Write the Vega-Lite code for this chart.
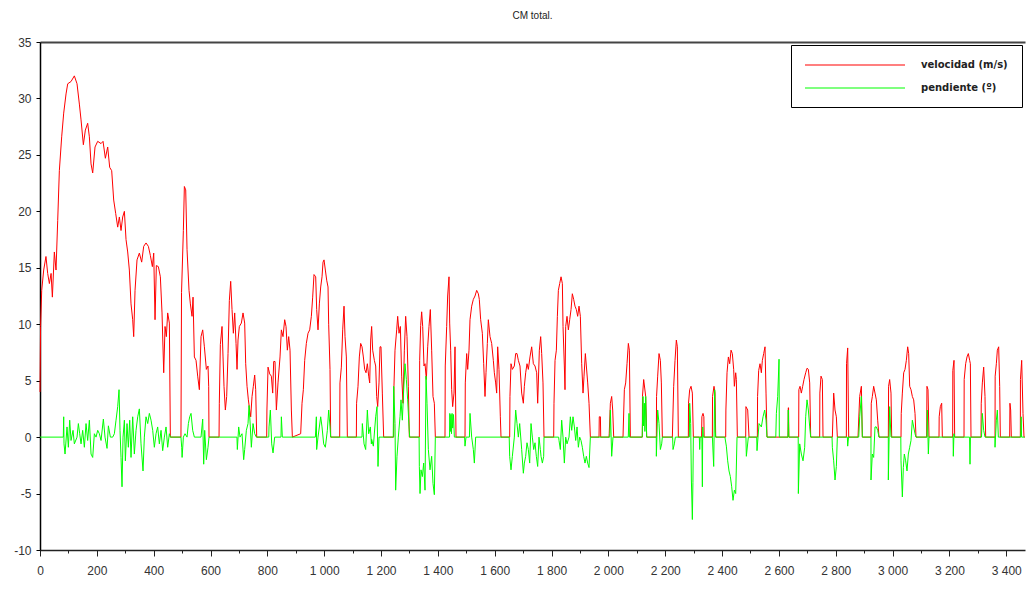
{
"$schema": "https://vega.github.io/schema/vega-lite/v6.json",
"width": 985, "height": 508,
"autosize": {"type": "none"},
"padding": {"left": 40, "top": 42, "right": 2, "bottom": 40},
"background": "white",
"title": {"text": "CM total.", "fontSize": 10, "font": "Liberation Sans", "fontWeight": "normal", "color": "#222", "offset": 15, "anchor": "middle", "frame": "group"},
"config": {"view": {"stroke": null}, "axis": {"grid": false}},
"datasets": {
"vel": [
{"t":0,"v":4.0},{"t":2,"v":9.8},{"t":6,"v":13.0},{"t":13,"v":14.8},{"t":21,"v":16.0},{"t":27,"v":14.5},{"t":33,"v":13.6},{"t":39,"v":14.5},{"t":43.5,"v":12.4},{"t":50.5,"v":16.4},{"t":56.4,"v":14.8},{"t":62.3,"v":19.2},{"t":68.1,"v":23.6},{"t":76.3,"v":26.6},{"t":83.4,"v":28.7},{"t":91.6,"v":30.4},{"t":97.5,"v":31.3},{"t":109.2,"v":31.5},{"t":120.9,"v":32.0},{"t":130.3,"v":31.3},{"t":138.5,"v":29.5},{"t":144.4,"v":28.1},{"t":152.6,"v":25.9},{"t":159.6,"v":27.2},{"t":167.8,"v":27.8},{"t":173.7,"v":26.6},{"t":179.6,"v":24.2},{"t":185.4,"v":23.4},{"t":193.6,"v":25.7},{"t":203,"v":26.2},{"t":214.8,"v":26.0},{"t":221.8,"v":26.2},{"t":230,"v":24.7},{"t":238.2,"v":25.7},{"t":245.2,"v":23.9},{"t":252.3,"v":23.6},{"t":259.3,"v":21.0},{"t":266.4,"v":19.8},{"t":273.4,"v":18.6},{"t":279.3,"v":19.5},{"t":285.1,"v":18.3},{"t":291,"v":19.5},{"t":296.9,"v":20.0},{"t":302.7,"v":17.5},{"t":308.6,"v":16.4},{"t":314.4,"v":14.8},{"t":320.3,"v":11.8},{"t":326.2,"v":10.4},{"t":329.7,"v":8.9},{"t":334.4,"v":13.0},{"t":341.4,"v":15.7},{"t":349.6,"v":16.3},{"t":357.8,"v":15.5},{"t":364.9,"v":16.9},{"t":373.1,"v":17.2},{"t":381.3,"v":16.9},{"t":388.3,"v":16.1},{"t":395.4,"v":15.1},{"t":400.1,"v":16.3},{"t":404.8,"v":10.4},{"t":409.4,"v":15.2},{"t":416.5,"v":15.1},{"t":423.5,"v":14.2},{"t":429.4,"v":11.0},{"t":435.3,"v":5.7},{"t":440,"v":9.8},{"t":444.6,"v":8.9},{"t":449.3,"v":11.0},{"t":455.2,"v":10.1},{"t":458.7,"v":0},{"t":496,"v":0},{"t":498,"v":12.8},{"t":504.5,"v":18.3},{"t":508,"v":22.2},{"t":512.7,"v":21.9},{"t":517.4,"v":16.6},{"t":524.4,"v":13.0},{"t":529.1,"v":11.8},{"t":535,"v":10.7},{"t":538.5,"v":12.4},{"t":543.2,"v":7.1},{"t":549,"v":6.8},{"t":554.9,"v":5.4},{"t":560.8,"v":4.2},{"t":566.6,"v":8.9},{"t":572.5,"v":9.5},{"t":578.4,"v":8.0},{"t":585.4,"v":6.0},{"t":591.2,"v":6.3},{"t":593.6,"v":4.5},{"t":594.7,"v":0},{"t":630,"v":0},{"t":631,"v":3.0},{"t":634.6,"v":8.2},{"t":640.5,"v":9.8},{"t":644,"v":7.1},{"t":647.5,"v":4.5},{"t":652.2,"v":2.4},{"t":656.9,"v":3.6},{"t":661.6,"v":7.4},{"t":666.3,"v":12.1},{"t":671,"v":13.8},{"t":675.7,"v":11.3},{"t":680.4,"v":9.2},{"t":685.1,"v":11.0},{"t":689.8,"v":8.3},{"t":693.3,"v":6.0},{"t":696.8,"v":8.6},{"t":701.5,"v":9.8},{"t":708.5,"v":10.1},{"t":714.4,"v":11.0},{"t":720.2,"v":10.1},{"t":723.8,"v":6.5},{"t":728.5,"v":4.5},{"t":733.2,"v":3.3},{"t":737.8,"v":2.4},{"t":741.4,"v":1.8},{"t":746.1,"v":3.6},{"t":750.7,"v":4.5},{"t":755.4,"v":5.5},{"t":759,"v":4.2},{"t":762.5,"v":0},{"t":797.7,"v":0},{"t":798.5,"v":2.4},{"t":802.4,"v":6.2},{"t":808.2,"v":5.6},{"t":814.1,"v":5.4},{"t":818.8,"v":3.9},{"t":822.3,"v":6.7},{"t":827,"v":6.7},{"t":831.7,"v":2.4},{"t":837.5,"v":4.8},{"t":844.6,"v":7.1},{"t":849.3,"v":9.5},{"t":855.1,"v":8.9},{"t":861,"v":10.4},{"t":865.7,"v":9.8},{"t":870.4,"v":7.7},{"t":875.1,"v":8.9},{"t":879.8,"v":7.7},{"t":884.5,"v":2.4},{"t":888,"v":0},{"t":917.3,"v":0.3},{"t":922,"v":3.0},{"t":926.7,"v":4.2},{"t":931.4,"v":6.8},{"t":937.2,"v":8.3},{"t":943.1,"v":9.2},{"t":949,"v":9.5},{"t":954.8,"v":10.7},{"t":959.5,"v":12.4},{"t":964.2,"v":14.4},{"t":970.1,"v":14.2},{"t":973.6,"v":11.3},{"t":978.3,"v":9.5},{"t":983,"v":11.8},{"t":987.7,"v":13.3},{"t":992.4,"v":14.2},{"t":995.9,"v":15.5},{"t":999.4,"v":15.7},{"t":1004.1,"v":14.8},{"t":1008.8,"v":13.9},{"t":1013.5,"v":13.3},{"t":1015.8,"v":10.0},{"t":1020.5,"v":6.0},{"t":1022.9,"v":0},{"t":1054.5,"v":0},{"t":1055.5,"v":4.8},{"t":1060.4,"v":6.2},{"t":1065.1,"v":9.5},{"t":1069.8,"v":11.6},{"t":1073.3,"v":8.9},{"t":1078,"v":7.1},{"t":1081.5,"v":0},{"t":1113.2,"v":0},{"t":1114,"v":3.0},{"t":1119,"v":4.5},{"t":1123.7,"v":7.1},{"t":1128.4,"v":8.3},{"t":1133.1,"v":8.0},{"t":1137.8,"v":7.1},{"t":1142.5,"v":6.0},{"t":1147.2,"v":5.7},{"t":1151.9,"v":6.5},{"t":1156.6,"v":5.4},{"t":1160.1,"v":4.8},{"t":1163.6,"v":8.6},{"t":1167,"v":9.8},{"t":1170.6,"v":7.7},{"t":1176.5,"v":6.8},{"t":1181.2,"v":6.3},{"t":1184.7,"v":3.6},{"t":1188.2,"v":2.7},{"t":1192.9,"v":4.8},{"t":1196.4,"v":8.0},{"t":1199.9,"v":8.0},{"t":1204.6,"v":3.9},{"t":1209.3,"v":0},{"t":1244.5,"v":0},{"t":1245.5,"v":4.5},{"t":1249.2,"v":7.7},{"t":1255.1,"v":9.5},{"t":1258.6,"v":10.7},{"t":1263.3,"v":9.2},{"t":1268,"v":9.8},{"t":1272.7,"v":5.4},{"t":1277.4,"v":3.0},{"t":1282.1,"v":7.7},{"t":1286.7,"v":10.7},{"t":1291.4,"v":8.9},{"t":1296.1,"v":4.5},{"t":1299.6,"v":0},{"t":1334.8,"v":0},{"t":1336,"v":6.8},{"t":1339.5,"v":9.9},{"t":1343,"v":11.1},{"t":1346.6,"v":9.8},{"t":1351.2,"v":6.3},{"t":1354.8,"v":6.5},{"t":1359.5,"v":5.1},{"t":1364.2,"v":8.0},{"t":1368.8,"v":9.8},{"t":1373.5,"v":11.3},{"t":1378.2,"v":7.7},{"t":1382.9,"v":3.6},{"t":1387.6,"v":3.0},{"t":1391.1,"v":0},{"t":1425.1,"v":0},{"t":1426,"v":6.3},{"t":1431,"v":9.8},{"t":1434.5,"v":12.5},{"t":1439.2,"v":14.2},{"t":1441.6,"v":10.1},{"t":1445.1,"v":7.7},{"t":1448.6,"v":4.2},{"t":1452.1,"v":2.7},{"t":1456.8,"v":3.9},{"t":1460.3,"v":8.0},{"t":1463.9,"v":0},{"t":1495.5,"v":0},{"t":1496.5,"v":4.8},{"t":1501.4,"v":7.4},{"t":1504.9,"v":6.0},{"t":1509.6,"v":7.7},{"t":1513.1,"v":10.4},{"t":1519,"v":11.6},{"t":1524.8,"v":12.2},{"t":1530.7,"v":12.5},{"t":1536.6,"v":13.0},{"t":1542.4,"v":12.7},{"t":1545.9,"v":12.2},{"t":1550.6,"v":10.4},{"t":1556.5,"v":9.2},{"t":1561.2,"v":6.5},{"t":1565.9,"v":3.6},{"t":1569.4,"v":5.7},{"t":1574.1,"v":8.3},{"t":1577.6,"v":10.4},{"t":1583.5,"v":8.9},{"t":1589.3,"v":8.3},{"t":1595.2,"v":6.8},{"t":1598.7,"v":5.7},{"t":1603.4,"v":4.8},{"t":1606.9,"v":3.9},{"t":1610.5,"v":8.0},{"t":1615.1,"v":6.0},{"t":1619.8,"v":1.8},{"t":1622.2,"v":0},{"t":1652.7,"v":0},{"t":1653.7,"v":3.6},{"t":1657.4,"v":6.5},{"t":1662.1,"v":6.0},{"t":1669.1,"v":6.3},{"t":1673.8,"v":7.4},{"t":1678.5,"v":7.4},{"t":1683.2,"v":6.8},{"t":1689,"v":6.3},{"t":1694.9,"v":3.9},{"t":1700.8,"v":3.0},{"t":1704.3,"v":4.5},{"t":1709,"v":5.7},{"t":1713.7,"v":6.5},{"t":1718.4,"v":6.0},{"t":1724.2,"v":7.1},{"t":1730.1,"v":8.0},{"t":1736,"v":6.5},{"t":1741.8,"v":6.3},{"t":1747.7,"v":5.7},{"t":1751.2,"v":3.0},{"t":1757.1,"v":7.7},{"t":1761.8,"v":8.9},{"t":1765.3,"v":7.4},{"t":1770,"v":4.8},{"t":1773.5,"v":0},{"t":1807.6,"v":0},{"t":1808.6,"v":3.0},{"t":1812.3,"v":6.8},{"t":1817,"v":7.7},{"t":1820.5,"v":10.7},{"t":1824,"v":13.0},{"t":1828.7,"v":13.6},{"t":1833.4,"v":14.2},{"t":1838.1,"v":13.6},{"t":1840.4,"v":9.8},{"t":1845.1,"v":6.3},{"t":1847.4,"v":4.2},{"t":1849.8,"v":9.8},{"t":1854.5,"v":10.7},{"t":1859.2,"v":9.5},{"t":1863.9,"v":10.4},{"t":1868.6,"v":11.3},{"t":1873.2,"v":12.7},{"t":1877.9,"v":12.2},{"t":1882.6,"v":11.6},{"t":1887.3,"v":11.3},{"t":1892,"v":10.7},{"t":1896.7,"v":11.6},{"t":1901.4,"v":10.7},{"t":1906.1,"v":6.5},{"t":1910.8,"v":3.9},{"t":1914.3,"v":5.4},{"t":1919,"v":7.4},{"t":1922.5,"v":6.3},{"t":1927.2,"v":4.8},{"t":1931.9,"v":3.0},{"t":1936.6,"v":0},{"t":1967.1,"v":0},{"t":1968,"v":1.8},{"t":1972,"v":1.8},{"t":1973,"v":0},{"t":2002.3,"v":0},{"t":2003,"v":0.3},{"t":2007,"v":3.0},{"t":2011.6,"v":3.6},{"t":2015.2,"v":2.4},{"t":2018.7,"v":0},{"t":2051.5,"v":0},{"t":2056.2,"v":4.2},{"t":2060.9,"v":4.8},{"t":2065.6,"v":6.5},{"t":2070.3,"v":8.3},{"t":2073.8,"v":7.7},{"t":2077.3,"v":0},{"t":2119.5,"v":0},{"t":2120,"v":3.6},{"t":2124.2,"v":5.1},{"t":2131.3,"v":3.6},{"t":2134.8,"v":0},{"t":2168.8,"v":0},{"t":2169.5,"v":3.6},{"t":2173.5,"v":5.4},{"t":2178.2,"v":7.4},{"t":2182.9,"v":6.8},{"t":2186.4,"v":4.8},{"t":2189.9,"v":0},{"t":2225.1,"v":0},{"t":2229.8,"v":4.5},{"t":2234.5,"v":6.8},{"t":2239.2,"v":8.6},{"t":2242.7,"v":8.0},{"t":2246.2,"v":0},{"t":2281.4,"v":0},{"t":2282,"v":3.0},{"t":2286.1,"v":4.2},{"t":2290.8,"v":4.5},{"t":2295.5,"v":3.9},{"t":2299,"v":0},{"t":2328,"v":0},{"t":2329,"v":1.8},{"t":2333,"v":2.1},{"t":2336,"v":1.8},{"t":2337,"v":0},{"t":2365.9,"v":0},{"t":2366.5,"v":3.6},{"t":2371.7,"v":4.5},{"t":2375.3,"v":3.9},{"t":2377.6,"v":0},{"t":2412.8,"v":0},{"t":2413.5,"v":2.4},{"t":2417.5,"v":5.7},{"t":2422.2,"v":7.1},{"t":2426.9,"v":6.5},{"t":2431.6,"v":7.7},{"t":2436.2,"v":7.4},{"t":2440.9,"v":6.0},{"t":2443.3,"v":4.5},{"t":2448,"v":5.7},{"t":2450.3,"v":5.1},{"t":2453.8,"v":0},{"t":2483.2,"v":0},{"t":2484,"v":2.7},{"t":2490.2,"v":2.4},{"t":2494.9,"v":0},{"t":2524.2,"v":0},{"t":2525,"v":3.6},{"t":2528.9,"v":5.9},{"t":2533.6,"v":6.5},{"t":2538.3,"v":5.7},{"t":2541.8,"v":6.8},{"t":2546.5,"v":7.4},{"t":2551.2,"v":8.0},{"t":2554.7,"v":3.9},{"t":2558.2,"v":0},{"t":2632,"v":0},{"t":2633,"v":2.6},{"t":2634,"v":2.6},{"t":2635,"v":0},{"t":2669.6,"v":0},{"t":2670.3,"v":4.2},{"t":2674.4,"v":4.5},{"t":2679,"v":3.9},{"t":2683.7,"v":4.5},{"t":2688.4,"v":5.1},{"t":2694.3,"v":5.7},{"t":2699,"v":6.1},{"t":2703.7,"v":6.0},{"t":2708.4,"v":4.8},{"t":2711.9,"v":0},{"t":2743.5,"v":0},{"t":2744.2,"v":3.9},{"t":2748.2,"v":5.4},{"t":2752.9,"v":5.1},{"t":2755.3,"v":0},{"t":2788.1,"v":0},{"t":2792.8,"v":3.9},{"t":2797.5,"v":2.4},{"t":2802.2,"v":1.8},{"t":2805.7,"v":0},{"t":2837.4,"v":0},{"t":2838,"v":6.5},{"t":2842.1,"v":7.9},{"t":2845.6,"v":0},{"t":2878.4,"v":0},{"t":2884.3,"v":3.6},{"t":2890.2,"v":4.5},{"t":2893.7,"v":0},{"t":2924.1,"v":0},{"t":2925,"v":3.0},{"t":2928.8,"v":3.6},{"t":2933.5,"v":4.5},{"t":2938.2,"v":3.9},{"t":2942.9,"v":3.3},{"t":2947.6,"v":1.5},{"t":2952.3,"v":0},{"t":2985.1,"v":0},{"t":2986,"v":4.5},{"t":2989.8,"v":5.1},{"t":2994.5,"v":3.9},{"t":2996.9,"v":0},{"t":3029.7,"v":0},{"t":3030.5,"v":2.1},{"t":3034.4,"v":3.9},{"t":3039.1,"v":5.7},{"t":3043.8,"v":6.0},{"t":3048.5,"v":6.8},{"t":3053.2,"v":8.0},{"t":3056.7,"v":7.4},{"t":3060.2,"v":4.5},{"t":3064.9,"v":4.2},{"t":3069.6,"v":3.6},{"t":3074.3,"v":3.3},{"t":3079,"v":2.1},{"t":3082.5,"v":0},{"t":3120,"v":0},{"t":3121,"v":4.5},{"t":3124.7,"v":4.2},{"t":3128.2,"v":0},{"t":3163.4,"v":0},{"t":3164,"v":1.8},{"t":3168.1,"v":2.7},{"t":3172.8,"v":3.0},{"t":3175.1,"v":0},{"t":3211.5,"v":0},{"t":3212,"v":5.9},{"t":3216.2,"v":6.8},{"t":3218.5,"v":0},{"t":3251.4,"v":0},{"t":3252,"v":5.1},{"t":3257.2,"v":6.5},{"t":3261.9,"v":7.1},{"t":3266.6,"v":7.4},{"t":3271.3,"v":6.8},{"t":3273.7,"v":6.5},{"t":3276,"v":0},{"t":3311.2,"v":0},{"t":3312,"v":3.0},{"t":3315.9,"v":4.8},{"t":3320.6,"v":6.2},{"t":3325.3,"v":3.6},{"t":3327.6,"v":0},{"t":3360.5,"v":0},{"t":3361,"v":5.4},{"t":3365.2,"v":6.5},{"t":3368.7,"v":7.7},{"t":3373.4,"v":8.0},{"t":3376.9,"v":4.5},{"t":3379.2,"v":0},{"t":3412.1,"v":0},{"t":3413,"v":3.0},{"t":3415.6,"v":2.4},{"t":3417.9,"v":0},{"t":3449.6,"v":0},{"t":3450,"v":5.1},{"t":3454.3,"v":6.8},{"t":3459,"v":2.1},{"t":3462.5,"v":0},{"t":3465,"v":0}
],
"pen": [
{"t":0,"v":0},{"t":82,"v":0},{"t":83.4,"v":1.8},{"t":84.5,"v":-0.6},{"t":88.1,"v":-1.5},{"t":95.1,"v":0.9},{"t":99.8,"v":-0.9},{"t":104.5,"v":1.5},{"t":109.2,"v":-0.3},{"t":116.2,"v":0.6},{"t":120.9,"v":-0.6},{"t":130.3,"v":0},{"t":135,"v":1.2},{"t":139.7,"v":0.3},{"t":144.4,"v":-0.6},{"t":150.2,"v":0.6},{"t":156.1,"v":-0.9},{"t":162,"v":1.2},{"t":167.8,"v":-0.3},{"t":173.7,"v":1.5},{"t":179.6,"v":-1.5},{"t":185.4,"v":-1.8},{"t":191.3,"v":0.3},{"t":197.2,"v":0},{"t":203,"v":0.6},{"t":208.9,"v":0.3},{"t":214.8,"v":-0.3},{"t":223,"v":1.6},{"t":228.8,"v":0},{"t":235.9,"v":-1.0},{"t":240.6,"v":1.0},{"t":247.6,"v":0},{"t":255.8,"v":0},{"t":261.7,"v":0.3},{"t":267.5,"v":1.5},{"t":273.4,"v":2.7},{"t":278.1,"v":4.2},{"t":281.6,"v":0.6},{"t":285.1,"v":-1.8},{"t":288.6,"v":-4.4},{"t":292.2,"v":0},{"t":296.9,"v":1.5},{"t":300.4,"v":-2.1},{"t":306.2,"v":1.2},{"t":310.9,"v":-0.9},{"t":315.6,"v":1.5},{"t":320.3,"v":-1.8},{"t":326.2,"v":1.8},{"t":332,"v":-1.5},{"t":337.9,"v":0.6},{"t":343.8,"v":1.8},{"t":349.6,"v":2.5},{"t":355.5,"v":-0.6},{"t":362.5,"v":-3.0},{"t":367.2,"v":0},{"t":373.1,"v":1.8},{"t":379,"v":1.2},{"t":384.8,"v":2.1},{"t":390.7,"v":1.5},{"t":396.6,"v":0.6},{"t":402.4,"v":-0.9},{"t":408.3,"v":0.3},{"t":414.1,"v":0.9},{"t":420,"v":-0.6},{"t":425.9,"v":0.6},{"t":431.7,"v":-1.2},{"t":437.6,"v":0},{"t":443.5,"v":0.9},{"t":449.3,"v":-0.9},{"t":455.2,"v":0.3},{"t":458.7,"v":0},{"t":496,"v":0},{"t":498.6,"v":-0.9},{"t":500,"v":-1.8},{"t":504.5,"v":0},{"t":510.3,"v":0.3},{"t":517.4,"v":0},{"t":522.1,"v":1.2},{"t":526.8,"v":1.8},{"t":531.4,"v":2.1},{"t":537.3,"v":0.6},{"t":543.2,"v":0},{"t":566.6,"v":0},{"t":572.5,"v":1.6},{"t":576,"v":-2.4},{"t":579.5,"v":0.6},{"t":585.4,"v":-2.0},{"t":591.2,"v":-0.9},{"t":594.7,"v":0},{"t":693,"v":0},{"t":694.4,"v":-1.1},{"t":699.1,"v":0.9},{"t":703.8,"v":0},{"t":710.9,"v":0.3},{"t":716.7,"v":-2.0},{"t":720.2,"v":-1.1},{"t":726.1,"v":0.6},{"t":732,"v":1.2},{"t":735.5,"v":2.8},{"t":740.2,"v":0.9},{"t":743.7,"v":-0.9},{"t":749.6,"v":1.2},{"t":755.4,"v":0.3},{"t":761.3,"v":0},{"t":805,"v":0},{"t":805.9,"v":0.9},{"t":810.6,"v":2.4},{"t":815.3,"v":-0.6},{"t":820,"v":-1.4},{"t":825.8,"v":0},{"t":848,"v":0},{"t":849.3,"v":1.8},{"t":852.8,"v":0},{"t":969,"v":0},{"t":972.4,"v":1.8},{"t":973.5,"v":-1.1},{"t":978.3,"v":0},{"t":987.7,"v":1.8},{"t":992.4,"v":0.9},{"t":998.2,"v":-0.6},{"t":1004.1,"v":-0.9},{"t":1011.1,"v":0.6},{"t":1015.8,"v":2.4},{"t":1020.5,"v":0.9},{"t":1022.9,"v":0},{"t":1133,"v":0},{"t":1134.3,"v":1.2},{"t":1140.2,"v":-0.6},{"t":1146,"v":-1.1},{"t":1151.9,"v":2.4},{"t":1156.6,"v":0.3},{"t":1162.4,"v":0.9},{"t":1166,"v":-0.6},{"t":1167.1,"v":-0.2},{"t":1173,"v":-0.8},{"t":1181.2,"v":1.8},{"t":1185.9,"v":2.7},{"t":1189.4,"v":-2.6},{"t":1192.9,"v":0},{"t":1243,"v":0},{"t":1244.5,"v":4.5},{"t":1249.2,"v":1.2},{"t":1251.5,"v":-4.7},{"t":1256.2,"v":-1.7},{"t":1260.9,"v":0},{"t":1266.8,"v":1.8},{"t":1270.3,"v":3.3},{"t":1275,"v":1.5},{"t":1279.7,"v":4.2},{"t":1284.4,"v":6.5},{"t":1289.1,"v":5.1},{"t":1293.8,"v":3.3},{"t":1298.5,"v":0.9},{"t":1300.8,"v":0},{"t":1334,"v":0},{"t":1334.8,"v":-2.6},{"t":1337.2,"v":-5.0},{"t":1340.7,"v":-2.9},{"t":1345.4,"v":-3.5},{"t":1350.1,"v":-2.3},{"t":1354.8,"v":-4.7},{"t":1358.3,"v":5.4},{"t":1361.8,"v":3.0},{"t":1366.5,"v":-1.1},{"t":1372.4,"v":-2.9},{"t":1378.2,"v":-1.7},{"t":1382.9,"v":-4.1},{"t":1387.6,"v":-5.1},{"t":1391.1,"v":0},{"t":1441,"v":0},{"t":1442,"v":2.1},{"t":1444,"v":0.5},{"t":1446,"v":2.0},{"t":1448,"v":0.3},{"t":1450,"v":2.1},{"t":1452,"v":0.8},{"t":1455,"v":2.0},{"t":1458,"v":0},{"t":1494,"v":0},{"t":1495.5,"v":-0.8},{"t":1499,"v":0},{"t":1511,"v":0},{"t":1513.1,"v":2.1},{"t":1519,"v":0},{"t":1524.8,"v":-1.1},{"t":1528.4,"v":-2.3},{"t":1533,"v":0},{"t":1651,"v":0},{"t":1652.7,"v":-1.7},{"t":1657.4,"v":-2.9},{"t":1662.1,"v":-1.7},{"t":1669.1,"v":0},{"t":1673.8,"v":2.4},{"t":1678.5,"v":1.2},{"t":1683.2,"v":0},{"t":1687.9,"v":1.2},{"t":1694.9,"v":-1.1},{"t":1700.8,"v":-3.2},{"t":1704.3,"v":-2.3},{"t":1709,"v":-1.7},{"t":1713.7,"v":-0.5},{"t":1718.4,"v":-1.1},{"t":1723.1,"v":-2.3},{"t":1727.8,"v":1.2},{"t":1732.5,"v":0},{"t":1737.2,"v":-1.1},{"t":1741.8,"v":-0.5},{"t":1746.5,"v":-1.7},{"t":1751.2,"v":-2.6},{"t":1755.9,"v":0},{"t":1760.6,"v":-1.1},{"t":1763,"v":-1.7},{"t":1767.7,"v":-2.3},{"t":1772.4,"v":-1.7},{"t":1773.5,"v":0},{"t":1825,"v":0},{"t":1826.3,"v":-0.3},{"t":1831,"v":-1.1},{"t":1835.7,"v":1.5},{"t":1840.4,"v":0},{"t":1845.1,"v":-2.3},{"t":1849.8,"v":0},{"t":1854.5,"v":-0.6},{"t":1861.5,"v":0},{"t":1866.2,"v":1.8},{"t":1870.9,"v":0.6},{"t":1875.6,"v":1.8},{"t":1880.3,"v":0.9},{"t":1885,"v":-0.3},{"t":1889.7,"v":0.9},{"t":1894.4,"v":-0.9},{"t":1899,"v":0},{"t":1903.7,"v":-0.3},{"t":1908.4,"v":-0.9},{"t":1913.1,"v":-1.7},{"t":1917.8,"v":-2.3},{"t":1922.5,"v":-1.7},{"t":1927.2,"v":-2.3},{"t":1931.9,"v":-2.7},{"t":1936.6,"v":0},{"t":2005,"v":0},{"t":2007,"v":2.4},{"t":2011.6,"v":-1.7},{"t":2016.3,"v":0},{"t":2070,"v":0},{"t":2072.6,"v":2.1},{"t":2074,"v":0},{"t":2119,"v":0},{"t":2121.9,"v":3.6},{"t":2123.5,"v":1.0},{"t":2126.6,"v":3.0},{"t":2128.5,"v":0.5},{"t":2131.3,"v":3.6},{"t":2134.8,"v":0},{"t":2168.5,"v":0},{"t":2168.8,"v":-1.7},{"t":2173.5,"v":2.4},{"t":2178.2,"v":1.2},{"t":2182.9,"v":-1.1},{"t":2187.6,"v":-0.6},{"t":2189.9,"v":0},{"t":2226,"v":0},{"t":2227.5,"v":-1.1},{"t":2232.2,"v":-0.6},{"t":2235.7,"v":0},{"t":2285,"v":0},{"t":2286.1,"v":3.0},{"t":2289.6,"v":1.2},{"t":2292,"v":-3.8},{"t":2295.5,"v":-7.3},{"t":2297.5,"v":-4.0},{"t":2299,"v":0},{"t":2320,"v":0},{"t":2321.3,"v":-1.1},{"t":2323,"v":0},{"t":2329,"v":0},{"t":2330.7,"v":-4.4},{"t":2332,"v":0.9},{"t":2334,"v":0},{"t":2366,"v":0},{"t":2370.6,"v":-2.6},{"t":2374.1,"v":4.2},{"t":2376,"v":0.5},{"t":2377.6,"v":0},{"t":2410,"v":0},{"t":2415.1,"v":-0.8},{"t":2419.8,"v":-2.1},{"t":2424.5,"v":-3.0},{"t":2429.2,"v":-3.5},{"t":2433.9,"v":-4.4},{"t":2438.6,"v":-5.6},{"t":2443.3,"v":-4.7},{"t":2448,"v":-5.0},{"t":2450,"v":-3.0},{"t":2452.7,"v":0},{"t":2484,"v":0},{"t":2485.5,"v":-1.7},{"t":2492.5,"v":0},{"t":2522,"v":0},{"t":2523,"v":-1.2},{"t":2530.1,"v":1.2},{"t":2538.3,"v":0.9},{"t":2544.2,"v":1.8},{"t":2550,"v":2.4},{"t":2554.7,"v":1.5},{"t":2558.2,"v":0},{"t":2589,"v":0},{"t":2591.1,"v":2.1},{"t":2595.8,"v":3.6},{"t":2600.5,"v":6.9},{"t":2601.5,"v":0},{"t":2632,"v":0},{"t":2633,"v":2.4},{"t":2635,"v":0},{"t":2668,"v":0},{"t":2668.5,"v":-5.0},{"t":2673.2,"v":-0.6},{"t":2679,"v":-1.5},{"t":2684.9,"v":-2.1},{"t":2690.8,"v":-0.9},{"t":2694.3,"v":1.8},{"t":2699,"v":3.3},{"t":2703.7,"v":2.4},{"t":2708.4,"v":0.9},{"t":2711.9,"v":0},{"t":2787,"v":0},{"t":2788.1,"v":-0.9},{"t":2792.8,"v":-2.1},{"t":2797.5,"v":-3.8},{"t":2802.2,"v":-2.6},{"t":2805.7,"v":0},{"t":2841,"v":0},{"t":2842.1,"v":-0.8},{"t":2845,"v":0},{"t":2881,"v":0},{"t":2884.3,"v":1.8},{"t":2890.2,"v":3.6},{"t":2893.7,"v":0},{"t":2924,"v":0},{"t":2924.1,"v":-3.8},{"t":2928.8,"v":-1.5},{"t":2933.5,"v":-1.8},{"t":2938.2,"v":0.9},{"t":2942.9,"v":0.9},{"t":2947.6,"v":0.6},{"t":2952.3,"v":0},{"t":2985,"v":0},{"t":2985.1,"v":-3.8},{"t":2989.8,"v":2.7},{"t":2994.5,"v":0},{"t":3029,"v":0},{"t":3029.7,"v":-2.1},{"t":3034.4,"v":-5.3},{"t":3037.9,"v":-2.7},{"t":3041.4,"v":-1.5},{"t":3046.1,"v":-2.1},{"t":3050.8,"v":-3.0},{"t":3055.5,"v":-1.5},{"t":3060.2,"v":-0.9},{"t":3064.9,"v":-0.3},{"t":3069.6,"v":1.5},{"t":3074.3,"v":0.9},{"t":3079,"v":0.3},{"t":3082.5,"v":0},{"t":3121,"v":0},{"t":3122.4,"v":2.4},{"t":3125.9,"v":-1.5},{"t":3128.2,"v":0},{"t":3213,"v":0},{"t":3213.8,"v":-1.7},{"t":3216,"v":0.3},{"t":3218,"v":0},{"t":3271,"v":0},{"t":3272.5,"v":-2.4},{"t":3274,"v":0},{"t":3313,"v":0},{"t":3315.9,"v":2.1},{"t":3320.6,"v":0.6},{"t":3325.3,"v":0},{"t":3360,"v":0},{"t":3360.5,"v":-0.9},{"t":3365.2,"v":1.5},{"t":3368.7,"v":2.4},{"t":3372.2,"v":0},{"t":3451,"v":0},{"t":3452.5,"v":1.8},{"t":3454,"v":0},{"t":3465,"v":0}
]
},
"resolve": {"axis": {"x": "independent", "y": "independent"}},
"layer": [
{
"data": {"name": "vel"},
"mark": {"type": "line", "strokeWidth": 1, "interpolate": "linear"},
"encoding": {
"x": {"field": "t", "type": "quantitative", "scale": {"domain": [0, 3466], "nice": false, "zero": false},
 "axis": {"title": null, "orient": "bottom", "values": [0,100,200,300,400,500,600,700,800,900,1000,1100,1200,1300,1400,1500,1600,1700,1800,1900,2000,2100,2200,2300,2400,2500,2600,2700,2800,2900,3000,3100,3200,3300,3400],
  "tickSize": {"condition": {"test": "datum.value % 200 == 0", "value": 6}, "value": 3},
  "labelExpr": "datum.value % 200 == 0 ? replace(format(datum.value, ','), ',', ' ') : ''",
  "labelFlush": false, "labelOverlap": false, "labelPadding": 9, "labelFont": "Liberation Sans", "labelFontSize": 12, "labelColor": "#333",
  "domainColor": "#222", "domainWidth": 1.5, "tickColor": "#222", "tickWidth": 1, "grid": false}},
"y": {"field": "v", "type": "quantitative", "scale": {"domain": [-10, 35], "nice": false, "zero": false},
 "axis": {"title": null, "orient": "left", "values": [-10,-5,0,5,10,15,20,25,30,35], "labelExpr": "datum.value + ''", "tickSize": 4, "labelPadding": 5, "labelFont": "Liberation Sans", "labelFontSize": 12, "labelColor": "#333", "domainColor": "#000", "domainWidth": 1.5, "tickColor": "#000", "grid": false, "labelFlush": false}},
"color": {"datum": "velocidad (m/s)", "type": "nominal",
 "scale": {"domain": ["velocidad (m/s)", "pendiente (º)"], "range": ["#ff0000", "#00ff00"]},
 "legend": {"title": null, "orient": "top-right", "offset": 3, "symbolType": "M-10,0H10", "symbolSize": 100, "symbolStrokeWidth": 1.2, "symbolOffset": 44, "labelOffset": 60, "padding": 14, "rowPadding": 12, "strokeColor": "#000", "fillColor": "#fff", "cornerRadius": 0, "labelFont": "DejaVu Sans", "labelFontSize": 10, "labelFontWeight": "bold", "labelColor": "#222"}}
}
},
{
"data": {"name": "pen"},
"mark": {"type": "line", "strokeWidth": 1, "interpolate": "linear"},
"encoding": {
"x": {"field": "t", "type": "quantitative", "axis": {"title": null, "orient": "top", "ticks": false, "labels": false, "domainColor": "#444", "domainWidth": 2, "grid": false}},
"y": {"field": "v", "type": "quantitative", "axis": null},
"color": {"datum": "pendiente (º)", "type": "nominal"}
}
}
]
}
